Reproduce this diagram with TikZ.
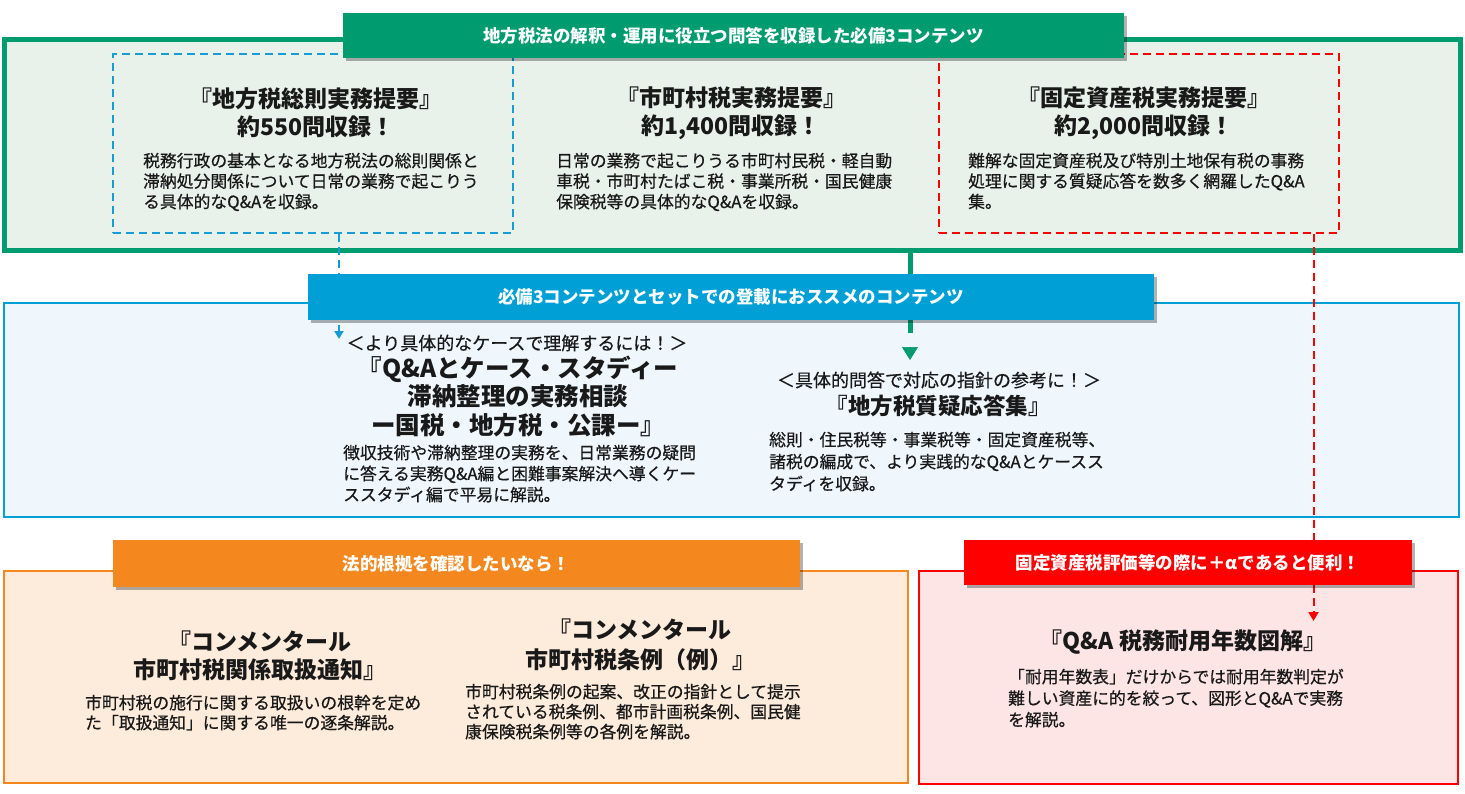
\documentclass[tikz,border=0pt]{standalone}
\usepackage{fontspec}
\setmainfont{Noto Sans CJK JP}
\newfontfamily\bodyfont{Noto Sans CJK JP}[FakeBold=0.6]
\usetikzlibrary{arrows.meta,shadows}
\definecolor{grn}{RGB}{0,155,111}
\definecolor{grnbg}{RGB}{233,242,234}
\definecolor{blu}{RGB}{0,160,214}
\definecolor{blubg}{RGB}{239,247,253}
\definecolor{bludash}{RGB}{24,156,216}
\definecolor{org}{RGB}{245,135,31}
\definecolor{orgbg}{RGB}{253,235,219}
\definecolor{rd}{RGB}{255,0,0}
\definecolor{rdbg}{RGB}{253,229,230}
\definecolor{ink}{RGB}{25,25,25}
\begin{document}
\begin{tikzpicture}[x=1pt,y=-1pt,
    box/.style={draw,line width=2pt,inner sep=0pt},
    dsh/.style={line width=2pt,dash pattern=on 8pt off 5pt},
    banner/.style={inner sep=0pt,text=white,font=\bfseries\fontsize{17.5}{20}\selectfont,
      drop shadow={shadow xshift=3pt,shadow yshift=-3pt,opacity=.3,fill=black}},
    ttl/.style={align=center,text=ink,inner sep=0pt,font=\bfseries\fontsize{23}{28}\selectfont},
    sub/.style={align=center,text=ink,inner sep=0pt,font=\bodyfont\fontsize{18}{22}\selectfont},
    txt/.style={align=left,anchor=north west,text=ink,inner sep=0pt,font=\bodyfont\fontsize{16.8}{20.5}\selectfont}]
    \useasboundingbox (0,0) rectangle (1465,793);
    % frames
    \node[box,draw=grn,fill=grnbg,line width=5pt,minimum width=1456pt,minimum height=211.5pt] (frame) at (732,144.75) {};
    \node[box,draw=bludash,dsh,minimum width=400pt,minimum height=179pt] (sokusoku) at (313,143.5) {};
    \node[box,draw=rd,dsh,minimum width=400pt,minimum height=179pt] (kotei) at (1138.5,143.5) {};
    \node[box,draw=blu,fill=blubg,minimum width=1455pt,minimum height=214pt] (osusume) at (731.5,410) {};
    \node[box,draw=org,fill=orgbg,minimum width=904pt,minimum height=212pt] (konmen) at (456,677) {};
    \node[box,draw=rd,fill=rdbg,minimum width=539pt,minimum height=213pt] (taiyou) at (1188,677) {};
    % connectors
    \coordinate (gend) at (910,333);
    \coordinate (gtop) at (910,347);
    \coordinate (gtip) at (910,360);
    \coordinate (btip) at (339,339);
    \coordinate (rtip) at (1313.5,621);
    \draw[grn,line width=5pt] (frame.south -| gend) -- (gend);
    \draw[grn,line width=.5pt,-{Triangle[length=13pt,width=16pt]}] (gtop) -- (gtip);
    \draw[bludash,dsh,-{Triangle[length=8pt,width=9pt]}] (sokusoku.south -| btip) -- (btip);
    \draw[rd,dsh,-{Triangle[length=9pt,width=10pt]}] (kotei.south -| rtip) -- (rtip);
    % banners
    \node[banner,fill=grn,minimum width=781pt,minimum height=45pt] (gban) at (733.5,35.5) {地方税法の解釈・運用に役立つ問答を収録した必備3コンテンツ};
    \node[banner,fill=blu,minimum width=846pt,minimum height=46pt] (bban) at (731,297) {必備3コンテンツとセットでの登載におススメのコンテンツ};
    \node[banner,fill=org,minimum width=687pt,minimum height=47pt] (oban) at (456.5,563.5) {法的根拠を確認したいなら！};
    \node[banner,fill=rd,minimum width=448pt,minimum height=45pt] (rban) at (1188,562.5) {固定資産税評価等の際に＋αであると便利！};
    % top three
    \node[ttl] (t1) at (316,113) {『地方税総則実務提要』\\約550問収録！};
    \node[txt] (b1) at (143,152.6) {税務行政の基本となる地方税法の総則関係と\\滞納処分関係について日常の業務で起こりう\\る具体的なQ\&Aを収録。};
    \node[ttl] (t2) at (731,113) {『市町村税実務提要』\\約1,400問収録！};
    \node[txt] (b2) at (556,152.6) {日常の業務で起こりうる市町村民税・軽自動\\車税・市町村たばこ税・事業所税・国民健康\\保険税等の具体的なQ\&Aを収録。};
    \node[ttl] (t3) at (1144,113) {『固定資産税実務提要』\\約2,000問収録！};
    \node[txt] (b3) at (968,152.6) {難解な固定資産税及び特別土地保有税の事務\\処理に関する質疑応答を数多く網羅したQ\&A\\集。};
    % recommended
    \node[sub] (s4) at (517,343) {＜より具体的なケースで理解するには！＞};
    \node[ttl,font=\bfseries\fontsize{24.5}{28.5}\selectfont] (t4) at (518,396.5) {『Q\&Aとケース・スタディー\\滞納整理の実務相談\\ー国税・地方税・公課ー』};
    \node[txt,font=\bodyfont\fontsize{16.8}{21}\selectfont] (b4) at (343,444.6) {徴収技術や滞納整理の実務を、日常業務の疑問\\に答える実務Q\&A編と困難事案解決へ導くケー\\ススタディ編で平易に解説。};
    \node[sub] (s5) at (939,380) {＜具体的問答で対応の指針の参考に！＞};
    \node[ttl,font=\bfseries\fontsize{22.5}{28}\selectfont] (t5) at (938,406) {『地方税質疑応答集』};
    \node[txt,font=\bodyfont\fontsize{16.8}{22}\selectfont] (b5) at (769,431.6) {総則・住民税等・事業税等・固定資産税等、\\諸税の編成で、より実践的なQ\&Aとケースス\\タディを収録。};
    % commentaries
    \node[ttl,font=\bfseries\fontsize{23}{28}\selectfont] (t6) at (260,656) {『コンメンタール\\市町村税関係取扱通知』};
    \node[txt,font=\bodyfont\fontsize{16.8}{20}\selectfont] (b6) at (85,694.6) {市町村税の施行に関する取扱いの根幹を定め\\た「取扱通知」に関する唯一の逐条解説。};
    \node[ttl,font=\bfseries\fontsize{23}{30}\selectfont] (t7) at (640,645) {『コンメンタール\\市町村税条例（例）』};
    \node[txt,font=\bodyfont\fontsize{16.8}{20}\selectfont] (b7) at (465,683.6) {市町村税条例の起案、改正の指針として提示\\されている税条例、都市計画税条例、国民健\\康保険税条例等の各例を解説。};
    % useful life
    \node[ttl,font=\bfseries\fontsize{23}{28}\selectfont] (t8) at (1183,642) {『Q\&A 税務耐用年数図解』};
    \node[txt,font=\bodyfont\fontsize{16.8}{21.5}\selectfont] (b8) at (1008,668.6) {「耐用年数表」だけからでは耐用年数判定が\\難しい資産に的を絞って、図形とQ\&Aで実務\\を解説。};
\end{tikzpicture}
\end{document}
